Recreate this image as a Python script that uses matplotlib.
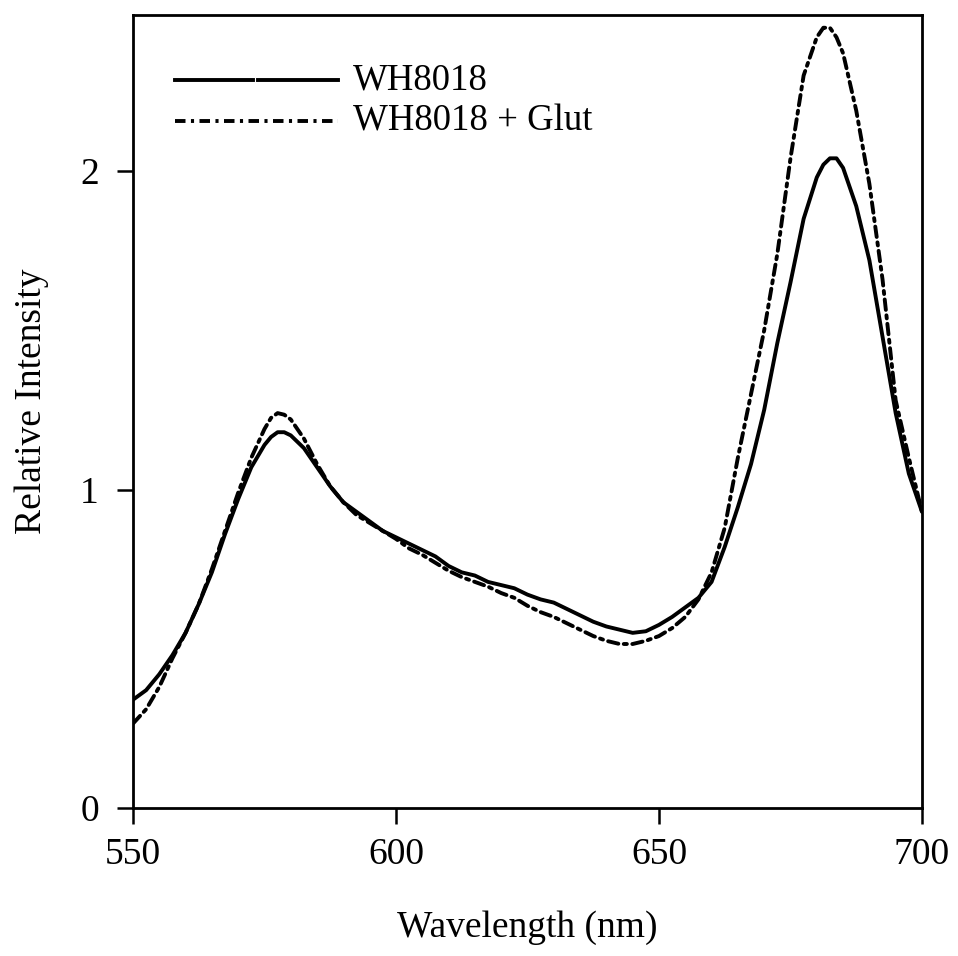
import matplotlib
matplotlib.use("Agg")
import matplotlib.pyplot as plt

plt.rcParams['font.family'] = ['Liberation Serif', 'DejaVu Serif']

# Emission spectra (relative intensity vs wavelength in nm)
wavelength = [550, 552.5, 555, 557.5, 560, 562.5, 565, 567.5, 570, 572.5,
              575, 576.25, 577.5, 578.75, 580, 582.5, 585, 587.5, 590, 592.5,
              595, 597.5, 600, 602.5, 605, 607.5, 610, 612.5, 615, 617.5,
              620, 622.5, 625, 627.5, 630, 632.5, 635, 637.5, 640, 642.5,
              645, 647.5, 650, 652.5, 655, 657.5, 660, 662.5, 665, 667.5,
              670, 672.5, 675, 677.5, 680, 681.25, 682.5, 683.75, 685, 687.5,
              690, 692.5, 695, 697.5, 700]

wh8018 = [0.34, 0.37, 0.42, 0.48, 0.55, 0.64, 0.74, 0.86, 0.97, 1.07,
          1.14, 1.165, 1.18, 1.18, 1.17, 1.13, 1.07, 1.01, 0.96, 0.93,
          0.90, 0.87, 0.85, 0.83, 0.81, 0.79, 0.76, 0.74, 0.73, 0.71,
          0.70, 0.69, 0.67, 0.655, 0.645, 0.625, 0.605, 0.585, 0.57, 0.56,
          0.55, 0.555, 0.575, 0.60, 0.63, 0.66, 0.71, 0.82, 0.945, 1.08,
          1.25, 1.46, 1.65, 1.85, 1.98, 2.02, 2.04, 2.04, 2.01, 1.89,
          1.72, 1.48, 1.24, 1.05, 0.93]

wh8018_glut = [0.265, 0.31, 0.38, 0.47, 0.55, 0.64, 0.75, 0.87, 0.99, 1.10,
               1.19, 1.225, 1.24, 1.235, 1.22, 1.16, 1.08, 1.01, 0.96, 0.92,
               0.895, 0.87, 0.845, 0.815, 0.795, 0.77, 0.745, 0.725, 0.71, 0.695,
               0.675, 0.66, 0.635, 0.615, 0.60, 0.58, 0.56, 0.54, 0.525, 0.515,
               0.515, 0.525, 0.54, 0.565, 0.60, 0.655, 0.74, 0.88, 1.10, 1.30,
               1.50, 1.74, 2.04, 2.30, 2.42, 2.45, 2.45, 2.42, 2.37, 2.19,
               1.96, 1.66, 1.28, 1.10, 0.93]

series_labels = ["WH8018", "WH8018 + Glut"]
x_ticks = [550, 600, 650, 700]
y_ticks = [0, 1, 2]

LW = 2.8
DASHDOT = (0, (2.7, 1.4, 0.8, 1.4))

fig = plt.figure(figsize=(9.58, 9.56), dpi=100)
ax = fig.add_axes([0.1388, 0.1548, 0.8236, 0.8295])

ax.plot(wavelength, wh8018, color='black', lw=LW,
        solid_capstyle='round', solid_joinstyle='round')
ax.plot(wavelength, wh8018_glut, color='black', lw=LW, linestyle=DASHDOT,
        dash_capstyle='round', dash_joinstyle='round')

ax.set_xlim(550, 700)
ax.set_ylim(0, 2.49)
ax.set_xticks(x_ticks)
ax.set_yticks(y_ticks)

for sp in ax.spines.values():
    sp.set_linewidth(2.0)

ax.tick_params(direction='out', length=11.5, width=1.8, labelsize=27)
ax.tick_params(axis='x', pad=10)
ax.tick_params(axis='y', pad=13)

ax.set_xlabel("Wavelength (nm)", fontsize=27, va='top')
ax.set_ylabel("Relative Intensity", fontsize=27)
ax.xaxis.set_label_coords(0.5, -0.129)
ax.yaxis.set_label_coords(-0.106, 0.513)

# Key in the upper left
ax.plot([0.053, 0.152], [0.918, 0.918], transform=ax.transAxes,
        color='black', lw=LW)
ax.plot([0.159, 0.260], [0.918, 0.918], transform=ax.transAxes,
        color='black', lw=LW)
ax.plot([0.053, 0.260], [0.866, 0.866], transform=ax.transAxes,
        color='black', lw=LW, linestyle=DASHDOT)
ax.text(0.279, 0.918, series_labels[0], transform=ax.transAxes,
        fontsize=26.5, va='center', ha='left')
ax.text(0.279, 0.866, series_labels[1], transform=ax.transAxes,
        fontsize=26.5, va='center', ha='left')

fig.savefig("out.png", dpi=100)
